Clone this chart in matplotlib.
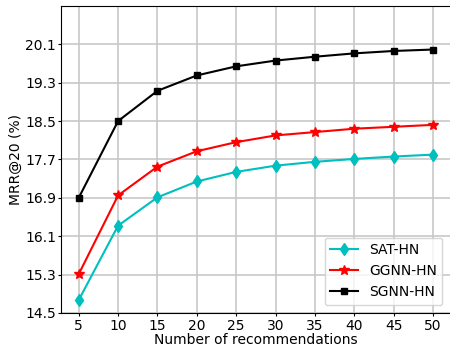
import matplotlib
matplotlib.use('Agg')
import matplotlib.pyplot as plt

x = [5, 10, 15, 20, 25, 30, 35, 40, 45, 50]
sat_hn = [14.77, 16.32, 16.91, 17.24, 17.44, 17.57, 17.65, 17.71, 17.76, 17.80]
ggnn_hn = [15.31, 16.95, 17.55, 17.87, 18.06, 18.20, 18.27, 18.34, 18.38, 18.42]
sgnn_hn = [16.90, 18.50, 19.13, 19.45, 19.64, 19.76, 19.84, 19.91, 19.96, 19.99]
yticks = [14.5, 15.3, 16.1, 16.9, 17.7, 18.5, 19.3, 20.1]

fig = plt.figure(figsize=(4.5, 3.49), dpi=100)
ax = fig.add_axes([0.1356, 0.1032, 0.866, 0.880])

ax.plot(x, sat_hn, color='c', marker='d', markersize=6, label='SAT-HN')
ax.plot(x, ggnn_hn, color='r', marker='*', markersize=7, label='GGNN-HN')
ax.plot(x, sgnn_hn, color='k', marker='s', markersize=5, label='SGNN-HN')

ax.set_xticks(x)
ax.set_yticks(yticks)
ax.set_yticklabels(['%.1f' % v for v in yticks])
ax.set_ylim(14.5, 20.9)
ax.set_xlim(2.75, 52.25)
ax.tick_params(labelsize=10, length=2.5)
ax.tick_params(axis='y', pad=1)
ax.tick_params(axis='x', pad=2)
ax.grid(True, color='#c8c8c8', linewidth=1.2)
ax.set_axisbelow(True)
ax.set_xlabel('Number of recommendations', fontsize=10, labelpad=0)
ax.set_ylabel('MRR@20 (%)', fontsize=10, labelpad=2)
ax.legend(loc='lower right', fontsize=10, borderaxespad=0.6)

fig.savefig('out.png', dpi=100)
